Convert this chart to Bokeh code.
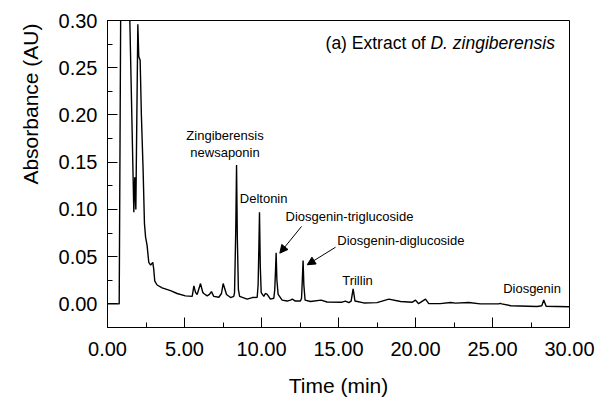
from bokeh.plotting import figure
from bokeh.models import Range1d, FixedTicker, Label, Arrow, NormalHead, ColumnDataSource, Title
from bokeh.embed import file_html
from bokeh.resources import INLINE

# ---- data ----
time_min = [
    0.00, 0.70, 0.76, 0.86, 1.05, 1.12, 1.45, 1.71, 1.77, 1.80, 1.84, 1.97,
    2.03, 2.12, 2.20, 2.31, 2.40, 2.47, 2.57, 2.68, 2.80, 2.94, 3.00, 3.07,
    3.22, 3.55, 4.09, 4.52, 5.06, 5.50, 5.61, 5.72, 5.82, 6.04, 6.19, 6.25,
    6.47, 6.62, 6.75, 6.90, 7.23, 7.40, 7.51, 7.73, 7.99, 8.20, 8.25, 8.33,
    8.38, 8.43, 8.50, 8.58, 9.07, 9.40, 9.72, 9.78, 9.83, 9.87, 9.92, 9.98,
    10.15, 10.25, 10.37, 10.58, 10.80, 10.86, 10.91, 10.95, 11.00, 11.08,
    11.34, 11.67, 11.88, 12.00, 12.20, 12.53, 12.60, 12.65, 12.70, 12.75,
    12.83, 13.18, 13.87, 14.26, 15.23, 15.45, 15.67, 15.82, 15.95, 16.07,
    16.64, 17.50, 18.27, 19.03, 19.80, 20.00, 20.20, 20.65, 20.86, 21.60,
    22.27, 22.60, 23.46, 24.20, 25.40, 25.50, 25.60, 26.20, 27.90, 28.20,
    28.33, 28.48, 29.95, 30.00,
]
absorbance_au = [
    0.000, 0.000, 0.000, 0.320, 0.750, 0.760, 0.300, 0.097, 0.134, 0.122, 0.100, 0.296,
    0.262, 0.258, 0.200, 0.143, 0.085, 0.071, 0.062, 0.044, 0.041, 0.044, 0.037, 0.024,
    0.020, 0.017, 0.014, 0.011, 0.0085, 0.008, 0.019, 0.012, 0.010, 0.0215, 0.012, 0.011,
    0.0085, 0.010, 0.013, 0.008, 0.007, 0.011, 0.0215, 0.010, 0.0067, 0.008, 0.012, 0.080,
    0.147, 0.070, 0.015, 0.008, 0.005, 0.0067, 0.007, 0.020, 0.060, 0.097, 0.040, 0.012,
    0.008, 0.011, 0.010, 0.005, 0.006, 0.015, 0.035, 0.054, 0.025, 0.010,
    0.004, 0.003, 0.004, 0.005, 0.003, 0.003, 0.006, 0.025, 0.046, 0.020,
    0.004, 0.0025, 0.004, 0.002, 0.0018, 0.003, 0.0014, 0.003, 0.016, 0.003,
    0.001, 0.0013, 0.005, 0.0025, 0.0018, 0.004, 0.0002, 0.005, 0.0003, 0.0003,
    0.0014, 0.0008, 0.0014, 0.000, 0.000, 0.0006, 0.000, -0.002, -0.0028, -0.002,
    0.004, -0.0025, -0.003, -0.003,
]

x_ticks = [0, 5, 10, 15, 20, 25, 30]
x_tick_labels = ["0.00", "5.00", "10.00", "15.00", "20.00", "25.00", "30.00"]
x_minor = [2.5, 7.5, 12.5, 17.5, 22.5, 27.5]
y_ticks = [0.0, 0.05, 0.10, 0.15, 0.20, 0.25, 0.30]
y_tick_labels = ["0.00", "0.05", "0.10", "0.15", "0.20", "0.25", "0.30"]
y_minor = [0.025, 0.075, 0.125, 0.175, 0.225, 0.275]

FONT = "Liberation Sans"

p = figure(width=597, height=401, output_backend="svg", toolbar_location=None,
           x_range=Range1d(0, 30), y_range=Range1d(-0.025, 0.30),
           min_border_left=107, min_border_right=28, min_border_top=20,
           min_border_bottom=74)
p.background_fill_color = "white"
p.border_fill_color = "white"
p.outline_line_color = "black"
p.outline_line_width = 1
p.xgrid.visible = False
p.ygrid.visible = False

src = ColumnDataSource(data=dict(t=time_min, a=absorbance_au))
p.line("t", "a", source=src, line_color="black", line_width=1.4)

for ax, ticks, minor, labels in ((p.xaxis[0], x_ticks, x_minor, x_tick_labels),
                                 (p.yaxis[0], y_ticks, y_minor, y_tick_labels)):
    ax.ticker = FixedTicker(ticks=ticks, minor_ticks=minor)
    ax.major_label_overrides = {t: l for t, l in zip(ticks, labels)}
    ax.major_tick_in = 10
    ax.major_tick_out = 0
    ax.minor_tick_in = 5
    ax.minor_tick_out = 0
    ax.axis_line_color = "black"
    ax.major_tick_line_color = "black"
    ax.minor_tick_line_color = "black"
    ax.major_label_text_font = FONT
    ax.major_label_text_font_size = "20px"
    ax.major_label_text_color = "black"
    ax.axis_label_text_font = FONT
    ax.axis_label_text_font_size = "21px"
    ax.axis_label_text_font_style = "normal"
    ax.axis_label_text_color = "black"

p.xaxis.axis_label = "Time (min)"
p.xaxis.major_label_standoff = 14
p.xaxis.axis_label_standoff = 15
p.yaxis.major_label_standoff = 10

# y-axis title, placed toward the top as in the original figure
p.add_layout(Title(text="Absorbance (AU)", align="right", text_font=FONT,
                   text_font_size="21px", text_font_style="normal",
                   text_color="black", standoff=27, offset=3), "left")

def lab(x, y, text, align="left", size="13px", style="normal"):
    p.add_layout(Label(x=x, y=y, text=text, text_align=align, text_baseline="middle",
                       text_font=FONT, text_font_size=size, text_font_style=style,
                       text_color="black"))

lab(14.16, 0.2767, "(a) Extract of ", size="17.5px")
lab(20.97, 0.2767, "D. zingiberensis", size="17.5px", style="italic")
lab(7.63, 0.178, "Zingiberensis", align="center")
lab(7.63, 0.160, "newsaponin", align="center")
lab(8.59, 0.112, "Deltonin")
lab(11.56, 0.0925, "Diosgenin-triglucoside")
lab(14.92, 0.0675, "Diosgenin-diglucoside")
lab(15.24, 0.0244, "Trillin")
lab(25.69, 0.0162, "Diosgenin")

for xs, ys, xe, ye in ((12.6, 0.082, 11.19, 0.0537), (14.81, 0.060, 12.97, 0.0414)):
    p.add_layout(Arrow(end=NormalHead(size=8, fill_color="black", line_color="black"),
                       x_start=xs, y_start=ys, x_end=xe, y_end=ye,
                       line_color="black", line_width=1))

open("out.html", "w").write(file_html(p, INLINE))
